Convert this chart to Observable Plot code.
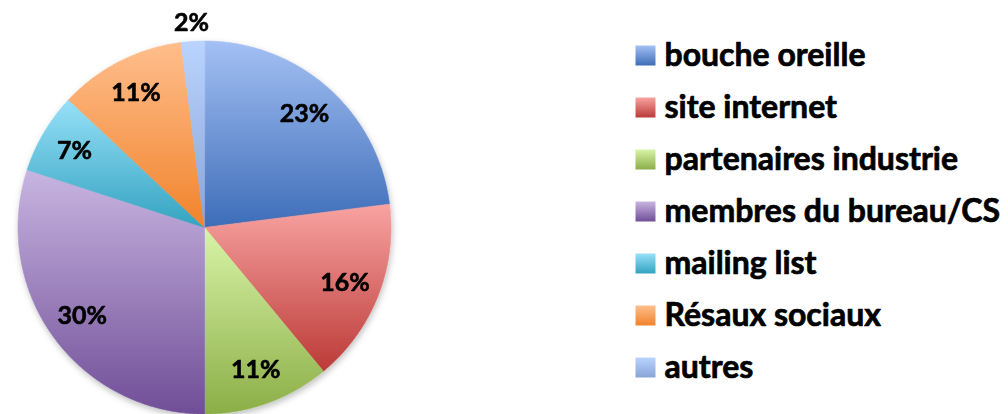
<!DOCTYPE html>
<html><head><meta charset="utf-8">
<script src="https://cdn.jsdelivr.net/npm/d3@7"></script>
<script src="https://cdn.jsdelivr.net/npm/@observablehq/plot@0.6"></script>
<style>
html,body{margin:0;padding:0;background:#fff;}
#wrap{position:relative;width:1008px;height:414px;overflow:hidden;}
#pie{position:absolute;left:0;top:0;}
#legend{position:absolute;left:420px;top:0;}
</style></head><body><div id="wrap"><div id="pie"></div><div id="legend"></div></div>
<script>
const categories = ["bouche oreille","site internet","partenaires industrie","membres du bureau/CS","mailing list","Résaux sociaux","autres"];
const values = [23,16,11,30,7,11,2];
const labels = ["23%","16%","11%","30%","7%","11%","2%"];
const topColors = ["#a4c0f4","#f8a3a1","#d8f4a8","#c8b5e1","#97e0f8","#ffbe8c","#bad4ff"];
const bottomColors = ["#3d6db8","#bb3a37","#8cae47","#704e97","#33a3c0","#f1832c","#88a4d6"];

const FONT = "Lato, 'Open Sans', sans-serif";
const R = 186.5, cx = 204, cy = 227;

const arcs = d3.pie().sort(null).value(d => d)(values);
const slices = arcs.map((a, i) => {
  const pts = [{x: 0, y: 0}];
  const n = Math.max(2, Math.ceil((a.endAngle - a.startAngle) / (Math.PI / 360)));
  for (let k = 0; k <= n; k++) {
    const t = a.startAngle + (a.endAngle - a.startAngle) * k / n;
    pts.push({x: Math.sin(t), y: -Math.cos(t)});
  }
  return pts;
});
const labelData = arcs.map((a, i) => {
  const m = (a.startAngle + a.endAngle) / 2;
  const f = values[i] < 5 ? 1.1 : 0.81;
  return {x: f * Math.sin(m), y: -f * Math.cos(m), label: labels[i]};
});

const piePlot = Plot.plot({
  width: 420, height: 414, margin: 0,
  x: {domain: [-1, 1], range: [cx - R, cx + R], axis: null},
  y: {domain: [-1, 1], range: [cy - R, cy + R], axis: null},
  style: {background: "transparent", overflow: "visible"},
  marks: [
    ...slices.map((pts, i) => Plot.line(pts, {x: "x", y: "y", fill: `url(#pg${i})`, stroke: `url(#pg${i})`, strokeWidth: 0.6, curve: "linear-closed"})),
    Plot.text(labelData, {x: "x", y: "y", text: "label", fontSize: 25, fontWeight: "bold", fontFamily: FONT, fill: "#000", stroke: "#000", strokeWidth: 0.6})
  ]
});
document.getElementById("pie").appendChild(piePlot);

const legendPlot = Plot.plot({
  width: 588, height: 414, margin: 0,
  x: {domain: [0, 588], range: [0, 588], axis: null},
  y: {type: "point", domain: categories, range: [52.7, 369], padding: 0, axis: null},
  color: {type: "identity"},
  style: {background: "transparent", overflow: "visible"},
  marks: [
    Plot.dot(categories, {x: 225, y: d => d, symbol: "square", r: 11.28, fill: (d, i) => `url(#lg${categories.indexOf(d)})`}),
    Plot.text(categories, {x: 244, y: d => d, text: d => d, textAnchor: "start", fontSize: 32, fontWeight: "bold", fontFamily: FONT, fill: "#000", stroke: "#000", strokeWidth: 0.7})
  ]
});
document.getElementById("legend").appendChild(legendPlot);

// gradients and shadow
const defs = d3.select(piePlot).insert("defs", ":first-child");
categories.forEach((c, i) => {
  ["pg", "lg"].forEach(p => {
    const g = defs.append("linearGradient").attr("id", p + i).attr("x1", 0).attr("y1", 0).attr("x2", 0).attr("y2", 1);
    g.append("stop").attr("offset", "0%").attr("stop-color", topColors[i]);
    g.append("stop").attr("offset", "100%").attr("stop-color", bottomColors[i]);
  });
});
defs.append("filter").attr("id", "shadow").attr("x", "-10%").attr("y", "-10%").attr("width", "120%").attr("height", "120%")
  .append("feDropShadow").attr("dx", 1).attr("dy", 3).attr("stdDeviation", 3).attr("flood-color", "#000").attr("flood-opacity", 0.25);
const svgSel = d3.select(piePlot);
const gShadow = svgSel.insert("g", "g[aria-label=text]").attr("filter", "url(#shadow)");
svgSel.selectAll("g[aria-label=line]").each(function() { gShadow.node().appendChild(this); });
</script>
</body></html>
